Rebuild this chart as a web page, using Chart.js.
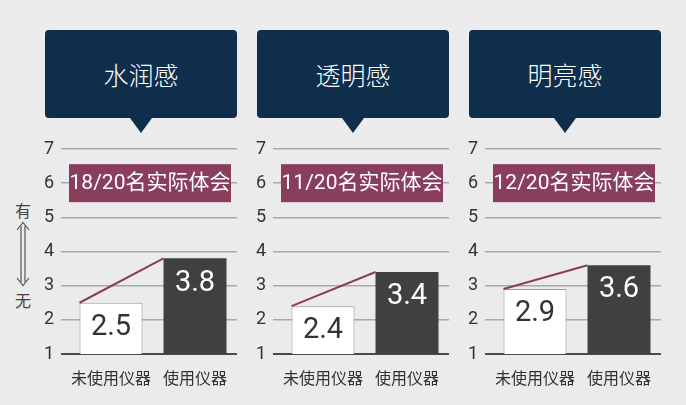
<!DOCTYPE html>
<html lang="zh">
<head>
  <meta charset="UTF-8">
  <title>仪器使用前后对比</title>
  <script src="https://cdn.jsdelivr.net/npm/chart.js"></script>
  <style>
    body { margin: 0; background: #ebebeb; font-family: "Noto Sans CJK SC", sans-serif; }
    #wrap { position: relative; width: 686px; height: 405px; overflow: hidden; }
    .bubble {
      position: absolute; top: 30px; width: 192px; height: 88px;
      background: #0f2e4b; border-radius: 4px; color: #fff;
      font-size: 25px; font-weight: 300; display: flex; align-items: center; justify-content: center;
    }
    .bubble::after {
      content: ""; position: absolute; left: 50%; bottom: -15px; margin-left: -11px;
      border-left: 11px solid transparent; border-right: 11px solid transparent;
      border-top: 15px solid #0f2e4b;
    }
    .panel { position: absolute; top: 135px; }
    .side { position: absolute; left: 15px; width: 16px; text-align: center; font-size: 16px; color: #444; line-height: 16px; }
  </style>
</head>
<body>
  <div id="wrap">
    <div class="side" style="top:202px">有</div>
    <svg style="position:absolute;left:14px;top:221px" width="18" height="66">
      <g fill="none" stroke="#555" stroke-width="1.2">
        <line x1="7" y1="5" x2="7" y2="61"/>
        <line x1="11" y1="5" x2="11" y2="61"/>
        <polyline points="3,9 9,1.5 15,9"/>
        <polyline points="3,57 9,64.5 15,57"/>
      </g>
    </svg>
    <div class="side" style="top:292px">无</div>
  </div>

  <script>
    const titles = ['水润感', '透明感', '明亮感'];
    const notes = ['18/20名实际体会', '11/20名实际体会', '12/20名实际体会'];
    const categories = ['未使用仪器', '使用仪器'];
    const before = [2.5, 2.4, 2.9];
    const after = [3.8, 3.4, 3.6];
    const yMin = 1, yMax = 7, noteLevel = 6;

    const wrap = document.getElementById('wrap');

    // 注释框、连线、数值
    const extras = {
      id: 'extras',
      beforeDatasetsDraw(chart, args, opts) {
        const ctx = chart.ctx;
        const y = chart.scales.y.getPixelForValue(noteLevel);
        const left = chart.chartArea.left;
        ctx.save();
        ctx.fillStyle = '#8a3e5d';
        ctx.fillRect(left, y - 19, 162, 38);
        ctx.fillStyle = '#fff';
        ctx.font = '21px Roboto, "Noto Sans CJK SC"';
        ctx.textAlign = 'center';
        ctx.textBaseline = 'middle';
        ctx.fillText(opts.note, left + 81, y + 1);
        ctx.restore();
      },
      afterDatasetsDraw(chart) {
        const ctx = chart.ctx;
        const bars = chart.getDatasetMeta(0).data;
        ctx.save();
        ctx.strokeStyle = '#8a3e5d';
        ctx.lineWidth = 2;
        ctx.beginPath();
        ctx.moveTo(bars[0].x - bars[0].width / 2, bars[0].y);
        ctx.lineTo(bars[1].x - bars[1].width / 2, bars[1].y);
        ctx.stroke();
        ctx.font = '29px Roboto';
        ctx.textAlign = 'center';
        ctx.textBaseline = 'middle';
        const vals = chart.data.datasets[0].data;
        bars.forEach((b, i) => {
          ctx.fillStyle = i === 0 ? '#333' : '#fff';
          ctx.fillText(vals[i].toFixed(1), b.x, b.y + 25);
        });
        ctx.restore();
      }
    };

    titles.forEach((t, i) => {
      const bubble = document.createElement('div');
      bubble.className = 'bubble';
      bubble.style.left = (45 + 212 * i) + 'px';
      bubble.textContent = t;
      wrap.appendChild(bubble);

      const panel = document.createElement('div');
      panel.className = 'panel';
      panel.style.left = (25 + 212 * i) + 'px';
      const canvas = document.createElement('canvas');
      canvas.width = 212;
      canvas.height = 270;
      panel.appendChild(canvas);
      wrap.appendChild(panel);

      new Chart(canvas.getContext('2d'), {
        type: 'bar',
        data: {
          labels: categories,
          datasets: [{
            data: [before[i], after[i]],
            backgroundColor: ['#ffffff', '#404040'],
            borderColor: ['#9a9a9a', '#404040'],
            borderWidth: [1, 0],
            borderSkipped: 'bottom',
            barPercentage: 0.75,
            categoryPercentage: 1
          }]
        },
        options: {
          responsive: false,
          animation: false,
          layout: { padding: { top: 14, right: 0, bottom: 0, left: 0 } },
          plugins: {
            legend: { display: false },
            tooltip: { enabled: false },
            extras: { note: notes[i] }
          },
          scales: {
            x: {
              grid: { display: false },
              border: { display: false },
              ticks: {
                color: '#333', padding: 6, maxRotation: 0, minRotation: 0, autoSkip: false,
                font: { family: '"Noto Sans CJK SC"', size: 16 }
              },
              afterFit(s) { s.height = 51; s.paddingLeft = 0; s.paddingRight = 0; }
            },
            y: {
              min: yMin,
              max: yMax,
              border: { display: false },
              grid: {
                tickLength: 8,
                color: c => c.tick && c.tick.value === yMin ? '#4a4a4a' : '#a8a8a8',
                lineWidth: c => c.tick && c.tick.value === yMin ? 2 : 1.5
              },
              ticks: { stepSize: 1, padding: 7, color: '#333', font: { family: 'Roboto', size: 18 } },
              afterFit(s) { s.width = 44; s.paddingTop = 0; s.paddingBottom = 0; }
            }
          }
        },
        plugins: [extras]
      });
    });
  </script>
</body>
</html>
